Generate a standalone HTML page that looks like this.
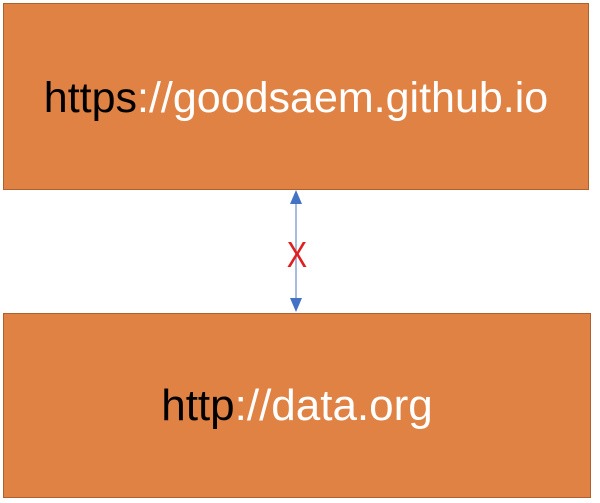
<!DOCTYPE html>
<html><head><style>
body{margin:0;width:600px;height:503px;background:#fff;position:relative;overflow:hidden;font-family:"Liberation Sans",sans-serif}
.box{position:absolute;left:3px;width:586px;background:#e08244;border:1px solid #b0602c;display:flex;align-items:center;justify-content:center;color:#fff;white-space:nowrap}
.k{color:#000}
</style></head><body>
<div class="box" style="top:3px;height:185px;font-size:43px;padding-top:4px;box-sizing:border-box;height:187px"><span><span class="k">https</span>://goodsaem.github.io</span></div>
<div class="box" style="top:313px;height:183px;font-size:44px"><span><span class="k">http</span>://data.org</span></div>
<svg style="position:absolute;left:0;top:0" width="600" height="503">
<line x1="296" y1="200" x2="296" y2="302" stroke="#8aa3d6" stroke-width="1.5"/>
<polygon points="296,190 290,204 302,204" fill="#4472c4"/>
<polygon points="296,312 290,298 302,298" fill="#4472c4"/>
<text x="297" y="267" font-size="36" fill="#e02020" text-anchor="middle" font-family="Liberation Sans,sans-serif" transform="translate(297 0) scale(0.85 1) translate(-297 0)">X</text>
</svg>
</body></html>
